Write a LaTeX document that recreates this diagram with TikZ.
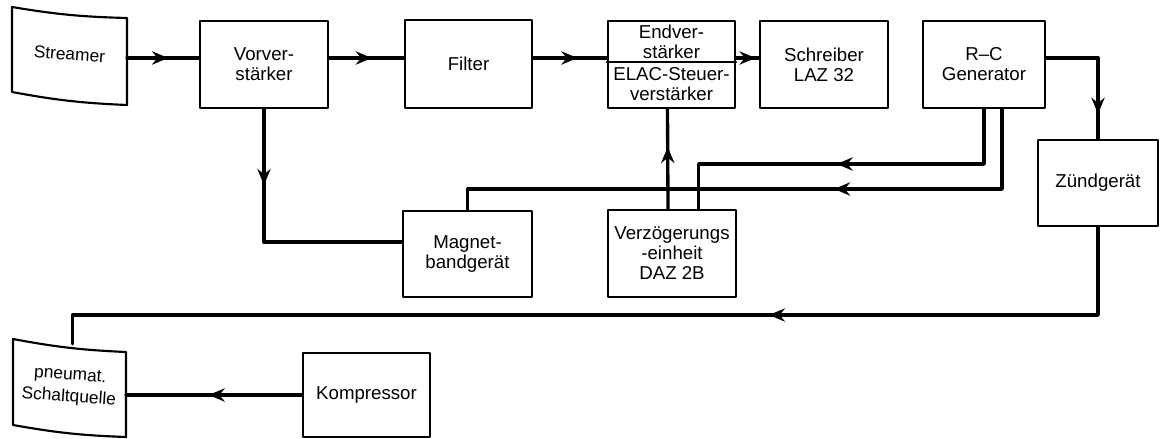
\documentclass[tikz,border=0pt]{standalone}
\usepackage{fontspec}
\setmainfont{Liberation Sans}
\usetikzlibrary{arrows.meta,decorations.markings}
\begin{document}
\begin{tikzpicture}[x=.75pt, y=-.75pt, font=\fontsize{14}{15}\selectfont, line join=round, line cap=round,
  outline/.style={line width=1.6pt},
  box/.style 2 args={draw, outline, minimum width=#1*.75pt, minimum height=#2*.75pt, inner sep=0pt, align=center},
  conn/.style={line width=2.5pt},
  midtip/.style={postaction={decorate}, decoration={markings, mark=at position #1 with {\arrow{Stealth[length=12pt,width=10pt,inset=4pt]}}}}]
\useasboundingbox (0,0) rectangle (1161,439);
\coordinate (sig) at (0,58);
\coordinate (upper) at (0,164);
\coordinate (lower) at (0,189);
\coordinate (bottom) at (0,315);
% blocks
\draw[outline] (12,7) to[bend right=4] (127,18) -- (127,105) to[bend left=4] (12,92) -- cycle;
\node[minimum width=115*.75pt, inner sep=0pt, rotate=-4, font=\fontsize{13}{15}\selectfont] (streamer) at (69.5,54) {Streamer};
\node[box={128}{87}] (vorv) at (264,64.5) {Vorver-\\stärker};
\node[box={127}{88}] (filter) at (468.5,64) {Filter};
\node[box={127}{87}] (endv) at (671.5,64.5) {};
\node[align=center] (endvtop) at (671.5,42) {Endver-\\stärker};
\node[align=center] (endvbot) at (671.5,84) {ELAC-Steuer-\\verstärker};
\draw[outline] ([yshift=1.9pt]endv.west) -- ([yshift=1.9pt]endv.east);
\node[box={128}{87}] (schreib) at (824,64.5) {Schreiber\\LAZ 32};
\node[box={122}{87}] (rc) at (984,64.5) {R--C\\Generator};
\node[box={120}{86}] (zuend) at (1098,183) {Zündgerät};
\node[box={129}{86}] (magnet) at (467.5,254) {Magnet-\\bandgerät};
\node[box={128}{87}] (verz) at (672,253.5) {Verzögerungs\\-einheit\\DAZ 2B};
\node[box={127}{84}] (kompr) at (366.5,395) {Kompressor};
\draw[outline] (13,339) to[bend right=4] (126,352) -- (126,437) to[bend left=4] (13,425) -- cycle;
\node[minimum width=113*.75pt, minimum height=86*.75pt, inner sep=0pt, align=center, rotate=-4, font=\fontsize{13}{16.5}\selectfont] (pneu) at (69.5,387) {pneumat.\\Schaltquelle};
% connectors
\foreach \a/\b/\p in {streamer/vorv/.57, vorv/filter/.57, filter/endv/.6, endv/schreib/.85}
  \draw[conn, midtip=\p] (\a.east |- sig) -- (\b.west |- sig);
\draw[conn, midtip=.81] (rc.east |- sig) -| (zuend.north);
\draw[conn, midtip=.28] (vorv.south) |- ([yshift=9pt]magnet.west);
\draw[conn, midtip=.62] ([xshift=-3pt]verz.north) -- ([xshift=-3pt]endv.south);
\coordinate (rc2) at ([xshift=13.5pt]rc.south);
\coordinate (vz) at ([xshift=20pt]verz.north);
\draw[conn, midtip=.525] (rc.south) -- (rc.south |- upper) -| (vz);
\draw[conn, midtip=.39] (rc2) -- (rc2 |- lower) -| (magnet.north);
\draw[conn, midtip=.365] (zuend.south) -- (zuend.south |- bottom) -| (pneu.north);
\draw[conn, midtip=.53] (kompr.west) -- (kompr.west -| pneu.east);
\end{tikzpicture}
\end{document}
